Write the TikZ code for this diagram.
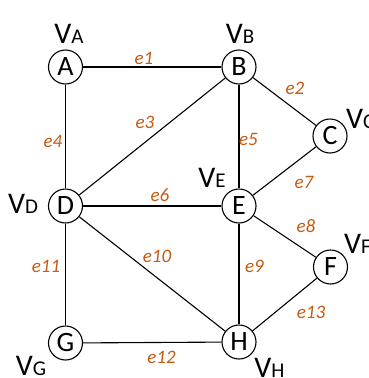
\documentclass[tikz,border=0pt]{standalone}
\usepackage{fontspec}
\setmainfont{Carlito}
\definecolor{elab}{RGB}{197,90,17}
\begin{document}
\begin{tikzpicture}[x=1pt,y=-1pt,
  vtx/.style={circle,draw,line width=1.1pt,minimum size=34pt,inner sep=0pt,font=\fontsize{28}{28}\selectfont},
  edge/.style={line width=1.1pt},
  elabel/.style={text=elab,font=\fontsize{19}{19}\selectfont\itshape,inner sep=0pt},
  vlabel/.style={anchor=base,inner sep=0pt}]
\useasboundingbox (0,0) rectangle (368,378);
\newcommand{\vl}[1]{{\fontsize{30}{30}\selectfont V}{\fontsize{21}{21}\selectfont #1}}
\node[vtx] (A) at (65.5,67) {A};
\node[vtx] (B) at (239,67) {B};
\node[vtx] (C) at (330,136) {C};
\node[vtx] (D) at (65.5,206) {D};
\node[vtx] (E) at (239,206) {E};
\node[vtx] (F) at (330.5,267) {F};
\node[vtx] (G) at (65.5,343) {G};
\node[vtx] (H) at (239,342) {H};
\draw[edge] (A) -- (B);
\draw[edge] (B) -- (C);
\draw[edge] (B) -- (D);
\draw[edge] (A) -- (D);
\draw[edge] (B) -- (E);
\draw[edge] (D) -- (E);
\draw[edge] (E) -- (C);
\draw[edge] (E) -- (F);
\draw[edge] (E) -- (H);
\draw[edge] (D) -- (H);
\draw[edge] (D) -- (G);
\draw[edge] (G) -- (H);
\draw[edge] (H) -- (F);
\node[elabel] (l1) at (144,58) {e1};
\node[elabel] (l2) at (295,88) {e2};
\node[elabel] (l3) at (145,122) {e3};
\node[elabel] (l4) at (53,141) {e4};
\node[elabel] (l5) at (248.5,139) {e5};
\node[elabel] (l6) at (160,195) {e6};
\node[elabel] (l7) at (304,182) {e7};
\node[elabel] (l8) at (306,226) {e8};
\node[elabel] (l9) at (254.5,266) {e9};
\node[elabel] (l10) at (157,256) {e10};
\node[elabel] (l11) at (46,266) {e11};
\node[elabel] (l12) at (161.5,357) {e12};
\node[elabel] (l13) at (311,312) {e13};
\node[vlabel] (vA) at (69,43) {\vl{A}};
\node[vlabel] (vB) at (240,43) {\vl{B}};
\node[vlabel,anchor=base west] (vC) at (346,128) {\vl{C}};
\node[vlabel] (vD) at (23,213) {\vl{D}};
\node[vlabel] (vE) at (212,187) {\vl{E}};
\node[vlabel,anchor=base west] (vF) at (344,253) {\vl{F}};
\node[vlabel] (vG) at (31,375) {\vl{G}};
\node[vlabel] (vH) at (269.5,377) {\vl{H}};
\end{tikzpicture}
\end{document}
